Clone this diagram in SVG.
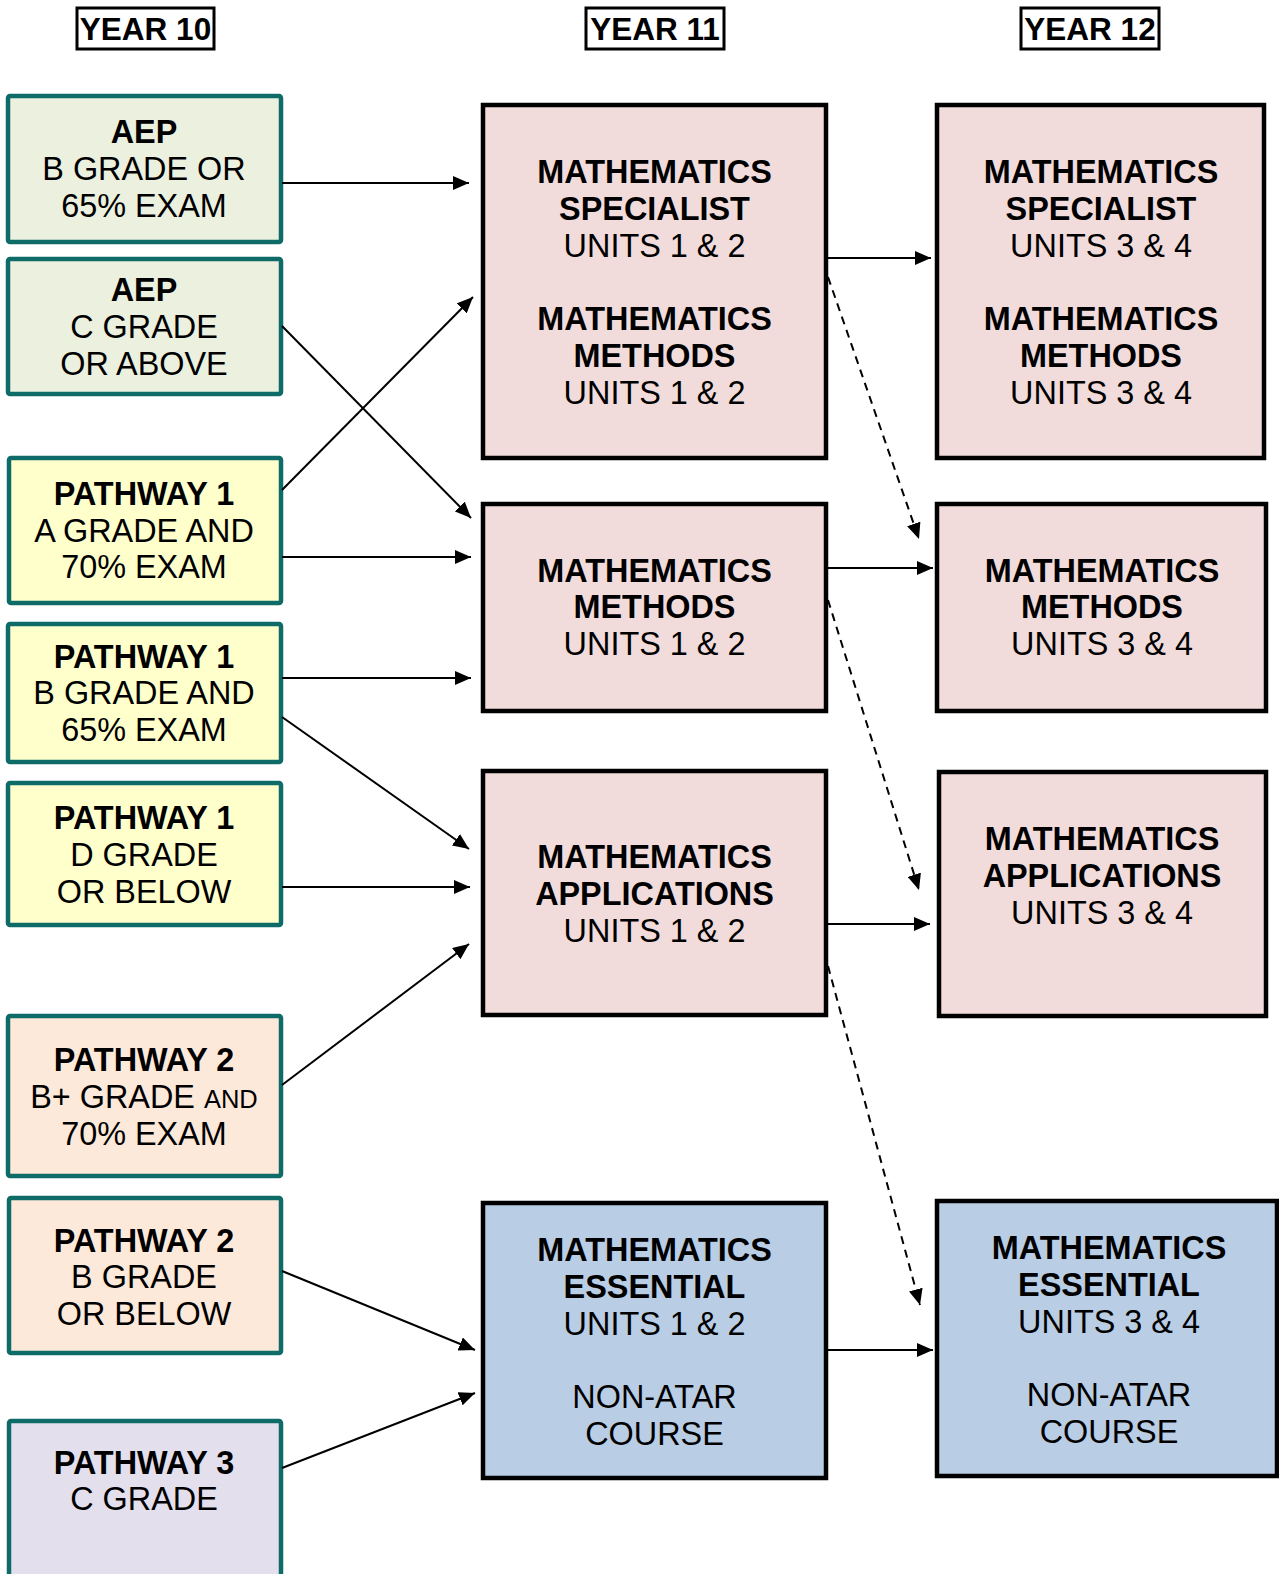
<svg xmlns="http://www.w3.org/2000/svg" width="1279" height="1574" viewBox="0 0 1279 1574">
<style>
text{font-family:"Liberation Sans",Arial,sans-serif;font-size:32.4px;fill:#000;text-anchor:middle}
.b{font-weight:bold}
.h{font-size:31.5px}
.hdr{fill:#fff;stroke:#000;stroke-width:3}
.l{stroke:#0F6B67;stroke-width:4.5}
.aep{fill:#EBF0DF}
.p1{fill:#FFFFCC}
.p2{fill:#FDE9D9}
.p3{fill:#E4DFEC}
.m{stroke:#000;stroke-width:4.5}
.pk{fill:#F2DCDB}
.bl{fill:#B9CDE5}
.c{stroke:#000;stroke-width:2;fill:none;marker-end:url(#ah)}
.d{stroke-dasharray:8,6}
</style>
<defs>
<marker id="ah" markerUnits="userSpaceOnUse" markerWidth="16" markerHeight="14" refX="16" refY="7" orient="auto">
<path d="M0,0 L16,7 L0,14 Z" fill="#000"/>
</marker>
</defs>
<rect width="1279" height="1574" fill="#fff"/>
<g id="hdr10"><rect class="hdr" x="77" y="8" width="137" height="41"/><text class="b h" x="145.5" y="40">YEAR 10</text></g>
<g id="hdr11"><rect class="hdr" x="586" y="8" width="138" height="41"/><text class="b h" x="655" y="40">YEAR 11</text></g>
<g id="hdr12"><rect class="hdr" x="1021" y="8" width="138" height="41"/><text class="b h" x="1090" y="40">YEAR 12</text></g>

<g id="aep1"><rect class="l aep" x="8" y="96" width="273" height="146" rx="2"/><text class="b" x="144" y="143">AEP</text><text x="144" y="180">B GRADE OR</text><text x="144" y="217">65% EXAM</text></g>
<g id="aep2"><rect class="l aep" x="8" y="259" width="273" height="135" rx="2"/><text class="b" x="144" y="301">AEP</text><text x="144" y="338">C GRADE</text><text x="144" y="375">OR ABOVE</text></g>
<g id="p1a"><rect class="l p1" x="9" y="458" width="272" height="145" rx="2"/><text class="b" x="144" y="505">PATHWAY 1</text><text x="144" y="542">A GRADE AND</text><text x="144" y="578">70% EXAM</text></g>
<g id="p1b"><rect class="l p1" x="8" y="624" width="273" height="138" rx="2"/><text class="b" x="144" y="668">PATHWAY 1</text><text x="144" y="704">B GRADE AND</text><text x="144" y="741">65% EXAM</text></g>
<g id="p1d"><rect class="l p1" x="8" y="783" width="273" height="142" rx="2"/><text class="b" x="144" y="829">PATHWAY 1</text><text x="144" y="866">D GRADE</text><text x="144" y="903">OR BELOW</text></g>
<g id="p2bp"><rect class="l p2" x="8" y="1016" width="273" height="160" rx="2"/><text class="b" x="144" y="1071">PATHWAY 2</text><text x="144" y="1108">B+ GRADE <tspan font-size="25.5">AND</tspan></text><text x="144" y="1145">70% EXAM</text></g>
<g id="p2b"><rect class="l p2" x="9" y="1198" width="272" height="155" rx="2"/><text class="b" x="144" y="1252">PATHWAY 2</text><text x="144" y="1288">B GRADE</text><text x="144" y="1325">OR BELOW</text></g>
<g id="p3"><rect class="l p3" x="9" y="1421" width="272" height="170" rx="2"/><text class="b" x="144" y="1474">PATHWAY 3</text><text x="144" y="1510">C GRADE</text></g>

<g id="y11sm"><rect class="m pk" x="483" y="105" width="343" height="353"/><text class="b" x="654.5" y="183">MATHEMATICS</text><text class="b" x="654.5" y="220">SPECIALIST</text><text x="654.5" y="257">UNITS 1 &amp; 2</text><text class="b" x="654.5" y="330">MATHEMATICS</text><text class="b" x="654.5" y="367">METHODS</text><text x="654.5" y="404">UNITS 1 &amp; 2</text></g>
<g id="y11m"><rect class="m pk" x="483" y="504" width="343" height="207"/><text class="b" x="654.5" y="582">MATHEMATICS</text><text class="b" x="654.5" y="618">METHODS</text><text x="654.5" y="655">UNITS 1 &amp; 2</text></g>
<g id="y11a"><rect class="m pk" x="483" y="771" width="343" height="244"/><text class="b" x="654.5" y="868">MATHEMATICS</text><text class="b" x="654.5" y="905">APPLICATIONS</text><text x="654.5" y="942">UNITS 1 &amp; 2</text></g>
<g id="y11e"><rect class="m bl" x="483" y="1203" width="343" height="275"/><text class="b" x="654.5" y="1261">MATHEMATICS</text><text class="b" x="654.5" y="1298">ESSENTIAL</text><text x="654.5" y="1335">UNITS 1 &amp; 2</text><text x="654.5" y="1408">NON-ATAR</text><text x="654.5" y="1445">COURSE</text></g>

<g id="y12sm"><rect class="m pk" x="937" y="105" width="327" height="353"/><text class="b" x="1101" y="183">MATHEMATICS</text><text class="b" x="1101" y="220">SPECIALIST</text><text x="1101" y="257">UNITS 3 &amp; 4</text><text class="b" x="1101" y="330">MATHEMATICS</text><text class="b" x="1101" y="367">METHODS</text><text x="1101" y="404">UNITS 3 &amp; 4</text></g>
<g id="y12m"><rect class="m pk" x="937" y="504" width="329" height="207"/><text class="b" x="1102" y="582">MATHEMATICS</text><text class="b" x="1102" y="618">METHODS</text><text x="1102" y="655">UNITS 3 &amp; 4</text></g>
<g id="y12a"><rect class="m pk" x="939" y="772" width="327" height="244"/><text class="b" x="1102" y="850">MATHEMATICS</text><text class="b" x="1102" y="887">APPLICATIONS</text><text x="1102" y="924">UNITS 3 &amp; 4</text></g>
<g id="y12e"><rect class="m bl" x="937" y="1201" width="340" height="275"/><text class="b" x="1109" y="1259">MATHEMATICS</text><text class="b" x="1109" y="1296">ESSENTIAL</text><text x="1109" y="1333">UNITS 3 &amp; 4</text><text x="1109" y="1406">NON-ATAR</text><text x="1109" y="1443">COURSE</text></g>

<g id="connectors">
<line class="c" x1="282" y1="183" x2="469" y2="183"/>
<line class="c" x1="282" y1="326" x2="471" y2="518"/>
<line class="c" x1="282" y1="490" x2="473" y2="297"/>
<line class="c" x1="282" y1="557" x2="471" y2="557"/>
<line class="c" x1="282" y1="678" x2="471" y2="678"/>
<line class="c" x1="282" y1="717" x2="469" y2="849"/>
<line class="c" x1="282" y1="887" x2="470" y2="887"/>
<line class="c" x1="282" y1="1085" x2="469" y2="944"/>
<line class="c" x1="282" y1="1271" x2="475" y2="1350"/>
<line class="c" x1="282" y1="1468" x2="475" y2="1393"/>
<line class="c" x1="828" y1="258" x2="931" y2="258"/>
<line class="c" x1="828" y1="568" x2="933" y2="568"/>
<line class="c" x1="828" y1="924" x2="930" y2="924"/>
<line class="c" x1="828" y1="1350" x2="933" y2="1350"/>
<line class="c d" x1="828" y1="277" x2="919" y2="539"/>
<line class="c d" x1="828" y1="600" x2="919" y2="890"/>
<line class="c d" x1="828" y1="966" x2="920" y2="1305"/>
</g>
</svg>
